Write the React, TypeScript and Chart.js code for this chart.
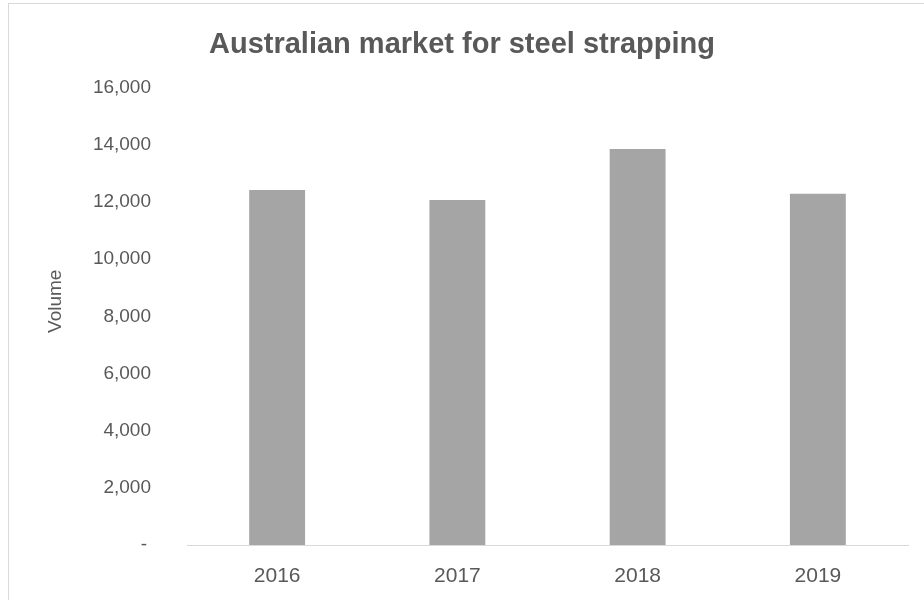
import React, { useEffect, useRef } from "react";
import { Chart, registerables } from "chart.js";

Chart.register(...registerables);

const categories = ["2016", "2017", "2018", "2019"];
const volumes = [12420, 12070, 13860, 12290];
const yMin = 0;
const yMax = 16000;
const yStep = 2000;
const chartTitle = "Australian market for steel strapping";
const yAxisTitle = "Volume";

const FONT = "'Liberation Sans', Arial, sans-serif";
const TEXT = "#595959";

// Draws the vertical axis title a little above the plot-area centre, as in the original.
const yTitlePlugin = {
  id: "yTitle",
  afterDraw(chart: any) {
    const { ctx, chartArea } = chart;
    const cy = chartArea.top + (chartArea.bottom - chartArea.top) * 0.467;
    ctx.save();
    ctx.translate(56, cy);
    ctx.rotate(-Math.PI / 2);
    ctx.fillStyle = TEXT;
    ctx.font = `19px ${FONT}`;
    ctx.textAlign = "center";
    ctx.textBaseline = "middle";
    ctx.fillText(yAxisTitle, 0, 0);
    ctx.restore();
  },
};

export default function App() {
  const ref = useRef<HTMLCanvasElement | null>(null);

  useEffect(() => {
    if (!ref.current) return;
    const chart = new Chart(ref.current, {
      type: "bar",
      data: {
        labels: categories,
        datasets: [
          {
            label: yAxisTitle,
            data: volumes,
            backgroundColor: "#A5A5A5",
            borderWidth: 0,
            categoryPercentage: 1,
            barPercentage: 0.31,
            yAxisID: "y",
          },
        ],
      },
      options: {
        animation: false,
        responsive: false,
        devicePixelRatio: 1,
        layout: { padding: 0 },
        plugins: {
          legend: { display: false },
          tooltip: { enabled: false },
          title: {
            display: true,
            text: chartTitle,
            color: TEXT,
            font: { family: FONT, size: 29, weight: "bold" },
            padding: { top: 28, bottom: 25 },
          },
        },
        scales: {
          x: {
            grid: { display: false, drawTicks: false },
            border: { display: true, color: "#D9D9D9", width: 1 },
            ticks: {
              color: TEXT,
              font: { family: FONT, size: 21 },
              padding: 19,
            },
            afterFit: (scale: any) => {
              scale.height = 55;
            },
          },
          y: {
            position: "left",
            min: yMin,
            max: yMax,
            grid: { display: false, drawTicks: false },
            border: { display: false },
            ticks: {
              stepSize: yStep,
              color: TEXT,
              font: { family: FONT, size: 19 },
              padding: 36,
              callback: (v: any) =>
                Number(v) === 0 ? "-\u2009" : Number(v).toLocaleString("en-US"),
            },
            afterFit: (scale: any) => {
              scale.width = 187;
            },
          },
          yRight: {
            position: "right",
            display: true,
            grid: { display: false, drawTicks: false },
            border: { display: false },
            ticks: { display: false },
            afterFit: (scale: any) => {
              scale.width = 16;
            },
          },
        },
      },
      plugins: [yTitlePlugin],
    });
    return () => chart.destroy();
  }, []);

  return (
    <div
      style={{
        position: "fixed",
        left: 0,
        top: 0,
        width: 924,
        height: 600,
        overflow: "hidden",
        background: "#fff",
      }}
    >
      <div
        style={{
          position: "absolute",
          left: 8,
          top: 3,
          width: 1200,
          height: 1200,
          borderLeft: "1px solid #D9D9D9",
          borderTop: "1px solid #D9D9D9",
        }}
      />
      <canvas
        ref={ref}
        width={924}
        height={600}
        style={{ position: "absolute", left: 0, top: 0, display: "block" }}
      />
    </div>
  );
}
